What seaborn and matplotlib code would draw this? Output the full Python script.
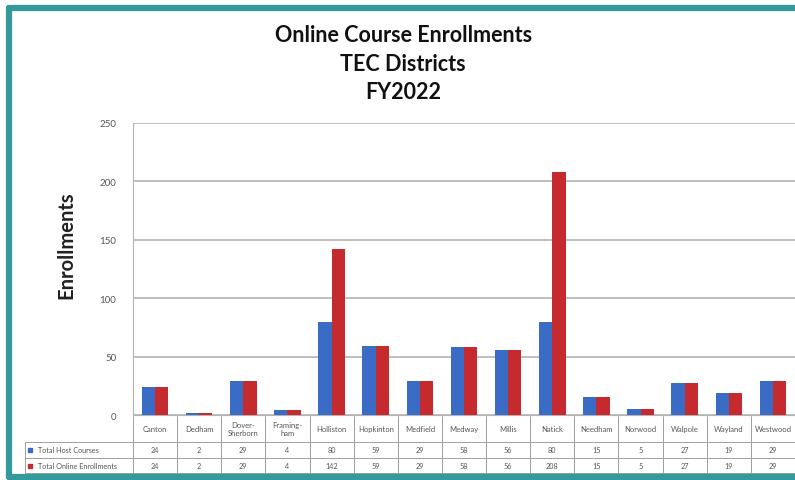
import pandas as pd
import matplotlib
matplotlib.use('Agg')
import matplotlib.pyplot as plt
import seaborn as sns
from matplotlib.lines import Line2D

# Data
districts = ['Canton', 'Dedham', 'Dover-\nSherborn', 'Framing-\nham', 'Holliston', 'Hopkinton',
             'Medfield', 'Medway', 'Millis', 'Natick', 'Needham', 'Norwood', 'Walpole',
             'Wayland', 'Westwood']
host_courses = [24, 2, 29, 4, 80, 59, 29, 58, 56, 80, 15, 5, 27, 19, 29]
online_enrollments = [24, 2, 29, 4, 142, 59, 29, 58, 56, 208, 15, 5, 27, 19, 29]
series_names = ['Total Host Courses', 'Total Online Enrollments']
yticks = [0, 50, 100, 150, 200, 250]

blue = '#3a6cc6'
red = '#c52a2e'
teal = '#33999a'
grid_col = '#b4b4b4'
text_col = '#555555'

df = pd.DataFrame({
    'District': districts * 2,
    'Series': [series_names[0]] * len(districts) + [series_names[1]] * len(districts),
    'Enrollments': host_courses + online_enrollments,
})

sns.set_style('white')
plt.rcParams['font.family'] = ['Lato', 'DejaVu Sans']

fig = plt.figure(figsize=(7.95, 4.81), dpi=100)
ax = fig.add_axes([133 / 795, 1 - 416 / 481, 662 / 795, 292 / 481])

sns.barplot(data=df, x='District', y='Enrollments', hue='Series', order=districts,
            hue_order=series_names, palette=[blue, red], width=0.6, saturation=1,
            edgecolor='none', ax=ax, legend=False, zorder=3)

ax.set_ylim(0, 250)
ax.set_yticks(yticks)
ax.set_yticklabels([str(t) for t in yticks], fontsize=7, color=text_col)
ax.tick_params(axis='y', length=0, pad=12)
ax.set_xticks([])
ax.set_xlabel('')
ax.set_xlim(-0.5, len(districts) - 0.5)
ax.yaxis.grid(True, color=grid_col, linewidth=1.2, zorder=0)
for side in ['top', 'right']:
    ax.spines[side].set_visible(False)
ax.spines['left'].set_color(grid_col)
ax.spines['bottom'].set_color(grid_col)
ax.set_ylabel('Enrollments', fontsize=14.5, fontweight='bold', color='#222222')
ax.yaxis.set_label_coords(-0.086, 0.586)

# Small tick marks between categories on the x axis
for i in range(len(districts) + 1):
    ax.plot([i - 0.5, i - 0.5], [0, -1.5], color=grid_col, lw=0.8, clip_on=False)

# Data table below the chart
row_w = 108 / 660
col_w = 1 / len(districts)
cell_text = [[''] + districts,
             [series_names[0]] + [str(v) for v in host_courses],
             [series_names[1]] + [str(v) for v in online_enrollments]]
tbl_h = 58 / 292
tbl = ax.table(cellText=cell_text, colWidths=[row_w] + [col_w] * len(districts),
               cellLoc='center', bbox=[-row_w, -tbl_h, 1 + row_w, tbl_h])
tbl.auto_set_font_size(False)
row_heights = [27, 16, 15]
for (r, c), cell in tbl.get_celld().items():
    cell.set_height(row_heights[r])
    cell.set_edgecolor('#a0a0a0')
    cell.set_linewidth(0.7)
    cell.get_text().set_fontsize(5.5 if r == 0 else 5.2)
    cell.get_text().set_color(text_col)
    if r == 0 and c == 0:
        cell.visible_edges = ''
    elif r == 0:
        cell.visible_edges = 'LRB'
    if c == 0 and r > 0:
        cell.get_text().set_ha('left')
        cell._loc = 'left'
        cell.PAD = 0.12

# Legend keys in the row labels
for r, col in zip([1, 2], [blue, red]):
    y_center = -(27 + sum(row_heights[1:r]) + row_heights[r] / 2) / 58 * tbl_h
    ax.add_line(Line2D([-row_w + 0.008], [y_center], marker='s', markersize=3.5,
                       color=col, transform=ax.transAxes, clip_on=False))

# Title
fig.text(0.507, 1 - 25 / 481, 'Online Course Enrollments\nTEC Districts\nFY2022',
         ha='center', va='top', fontsize=15.5, fontweight='bold', color='#111111',
         linespacing=1.45)

# Teal frame (top, left, bottom)
fig.add_artist(Line2D([9 / 795, 1], [1 - 9 / 481, 1 - 9 / 481], color=teal, lw=4.5,
                      transform=fig.transFigure))
fig.add_artist(Line2D([9 / 795, 9 / 795], [1 - 9 / 481, 1 - 478 / 481], color=teal, lw=4.5,
                      transform=fig.transFigure))
fig.add_artist(Line2D([9 / 795, 1], [1 - 478 / 481, 1 - 478 / 481], color=teal, lw=4.5,
                      transform=fig.transFigure))

fig.savefig('out.png', dpi=100, facecolor='white')
